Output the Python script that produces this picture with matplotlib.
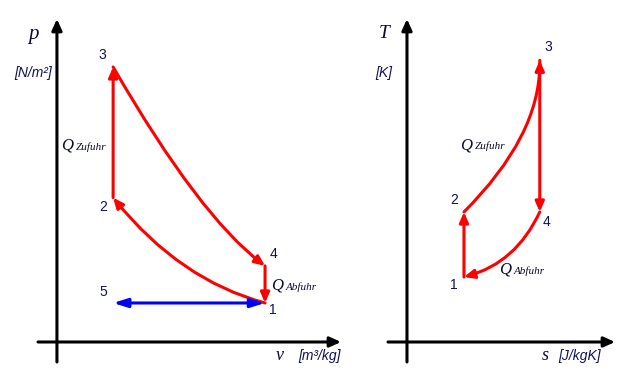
import matplotlib
matplotlib.use("Agg")
import matplotlib.pyplot as plt

# p-v diagram, states 1..4 (+ state 5 for the blue line)
pv_labels = ["1", "2", "3", "4"]
v_state = [1.0, 0.27, 0.27, 1.0]
p_state = [1.0, 3.7, 7.05, 1.95]
v5, p5 = 0.27, 1.0

# T-s diagram, states 1..4
ts_labels = ["1", "2", "3", "4"]
s_state = [1.0, 1.0, 2.33, 2.33]
T_state = [300, 600, 1300, 600]

RED = "#ff0000"
BLUE = "#0000ff"
NAVY = "#10105a"
SERIF = "Liberation Serif"
SANS = "Liberation Sans"
W, H = 625, 379


def arrow(ax, a, b, color, conn="arc3,rad=0", style="-|>", hl=0.5, hw=0.22, lw=2.2):
    ax.annotate("", xy=b, xytext=a, annotation_clip=False,
                arrowprops=dict(arrowstyle=f"{style},head_length={hl},head_width={hw}",
                                color=color, lw=lw, shrinkA=0, shrinkB=0,
                                mutation_scale=12, connectionstyle=conn))


def label(ax, txt, xy, off):
    ax.annotate(txt, xy=xy, xytext=off, textcoords="offset pixels",
                ha="center", va="center", fontsize=10, family=SANS, color=NAVY)


def ftext(x, y, txt, **kw):
    # position given in pixels of the 625x379 picture
    return fig.text(x / W, 1 - y / H, txt, **kw)


fig = plt.figure(figsize=(6.25, 3.79), dpi=100)

# ---- p-v ----
ax1 = fig.add_axes([38 / W, 17 / H, 303 / W, 343 / H])
ax1.set_xlim(-0.091, 1.365)
ax1.set_ylim(-0.513, 8.28)
ax1.set_axis_off()
x0, x1 = ax1.get_xlim()
y0, y1 = ax1.get_ylim()
arrow(ax1, (x0, 0), (x1, 0), "black", hl=0.55, hw=0.25)
arrow(ax1, (0, y0), (0, y1), "black", hl=0.55, hw=0.25)

P = list(zip(v_state, p_state))
arrow(ax1, P[0], P[1], RED, "angle3,angleA=165,angleB=129")
arrow(ax1, P[1], P[2], RED)
arrow(ax1, P[2], P[3], RED, "angle3,angleA=-60,angleB=-37")
arrow(ax1, P[3], P[0], RED)
arrow(ax1, (v5, p5), P[0], BLUE, style="<|-|>", hl=0.7, hw=0.22)

pv_off = [(8, -7), (-10, -9), (-11, 12), (8, 12)]
for t, xy, off in zip(pv_labels, P, pv_off):
    label(ax1, t, xy, off)
label(ax1, "5", (v5, p5), (-10, 11))

# ---- T-s ----
ax2 = fig.add_axes([388 / W, 17 / H, 227 / W, 343 / H])
ax2.set_xlim(-0.333, 3.65)
ax2.set_ylim(-92.3, 1490.6)
ax2.set_axis_off()
x0, x1 = ax2.get_xlim()
y0, y1 = ax2.get_ylim()
arrow(ax2, (x0, 0), (x1, 0), "black", hl=0.55, hw=0.25)
arrow(ax2, (0, y0), (0, y1), "black", hl=0.55, hw=0.25)

S = list(zip(s_state, T_state))
arrow(ax2, S[0], S[1], RED)
arrow(ax2, S[1], S[2], RED, "angle3,angleA=45,angleB=90")
arrow(ax2, S[2], S[3], RED)
arrow(ax2, S[3], S[0], RED, "angle3,angleA=-115,angleB=15")

ts_off = [(-10, -8), (-10, 12), (9, 13), (7, -10)]
for t, xy, off in zip(ts_labels, S, ts_off):
    label(ax2, t, xy, off)

# ---- axis names and units ----
big = dict(family=SERIF, style="italic", color="#0a0a30", ha="center", va="center")
unit = dict(family=SANS, style="italic", color=NAVY, fontsize=10, va="center")
ftext(33, 34, "p", fontsize=15, **big)
ftext(33, 73, "[N/m²]", ha="center", **unit)
ftext(280, 355, "v", fontsize=13, **big)
ftext(298, 356, "[m³/kg]", ha="left", **unit)
ftext(384, 33, "T", fontsize=14, **big)
ftext(384, 73, "[K]", ha="center", **unit)
ftext(545, 355, "s", fontsize=13, **big)
ftext(558, 356, "[J/kgK]", ha="left", **unit)

# ---- heat flows ----
qkw = dict(family=SERIF, style="italic", color="#0a0a30", va="baseline", ha="left")
for qx, qy, sub in [(61, 150, "Zufuhr"), (271, 290, "Abfuhr"),
                    (460, 149, "Zufuhr"), (499, 274, "Abfuhr")]:
    ftext(qx, qy, "Q", fontsize=12, **qkw)
    ftext(qx + 15, qy, sub, fontsize=8, **qkw)

fig.savefig("out.png", dpi=100)
